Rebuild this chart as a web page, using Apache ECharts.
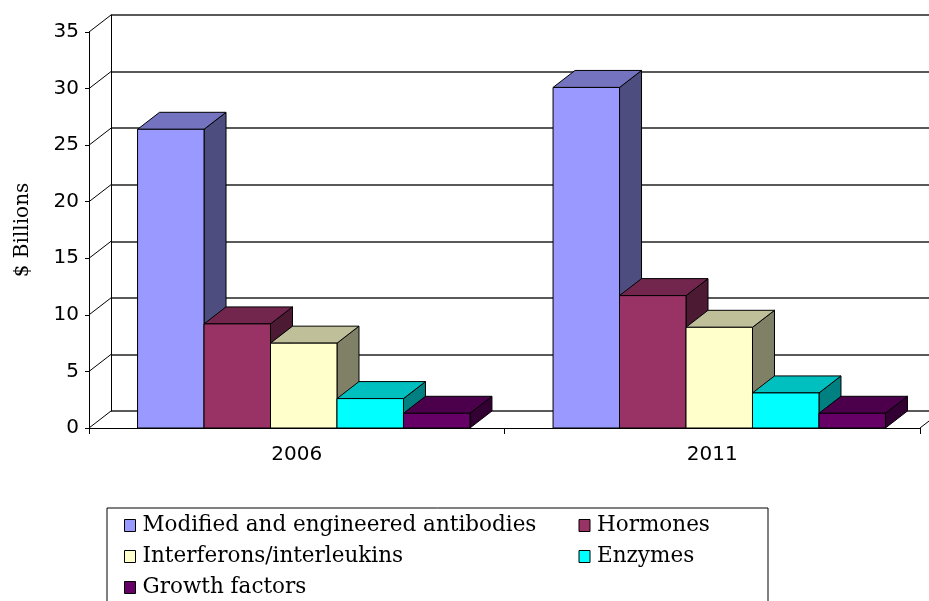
<!DOCTYPE html>
<html>
<head>
<meta charset="utf-8">
<script src="https://cdn.jsdelivr.net/npm/echarts@6/dist/echarts.min.js"></script>
<style>
  html, body { margin: 0; padding: 0; background: #fff; }
  #main { width: 929px; height: 601px; }
</style>
</head>
<body>
<div id="main"></div>
<script>
// data
var years = ['2006', '2011'];
var productNames = ['Modified and engineered antibodies', 'Hormones', 'Interferons/interleukins', 'Enzymes', 'Growth factors'];
var antibodies = [26.4, 30.1];
var hormones = [9.2, 11.7];
var interferons = [7.5, 8.9];
var enzymes = [2.6, 3.1];
var growthFactors = [1.3, 1.3];
var yTicks = [0, 5, 10, 15, 20, 25, 30, 35];

// excel-ish 3d colours: front, top, side
var frontColors = ['#9999ff', '#993366', '#ffffcc', '#00ffff', '#660066'];
var topColors = ['#7373bf', '#73264d', '#bfbf99', '#00bfbf', '#4c004c'];
var sideColors = ['#4d4d80', '#4d1a33', '#808066', '#008080', '#330033'];

var DX = 22, DY = -17; // depth of the box
var SHIFT = 7;

var allValues = [antibodies, hormones, interferons, enzymes, growthFactors];

var chart = echarts.init(document.getElementById('main'));

function barRenderer(k) {
  return function (params, api) {
    var cat = api.value(0);
    var val = api.value(1);
    var base = api.coord([cat, 0]);
    var top = api.coord([cat, val]);
    var band = api.size([1, 0])[0];
    var w = band * 0.8 / 5;
    var x0 = base[0] - band * 0.4 + k * w + SHIFT;
    var x1 = x0 + w;
    var st = { stroke: '#000', lineWidth: 1 };
    return {
      type: 'group',
      children: [
        {
          type: 'polygon',
          shape: { points: [[x1, top[1]], [x1 + DX, top[1] + DY], [x1 + DX, base[1] + DY], [x1, base[1]]] },
          style: Object.assign({ fill: sideColors[k] }, st)
        },
        {
          type: 'polygon',
          shape: { points: [[x0, top[1]], [x0 + DX, top[1] + DY], [x1 + DX, top[1] + DY], [x1, top[1]]] },
          style: Object.assign({ fill: topColors[k] }, st)
        },
        {
          type: 'rect',
          shape: { x: x0, y: top[1], width: w, height: base[1] - top[1] },
          style: Object.assign({ fill: frontColors[k] }, st)
        }
      ]
    };
  };
}

var series = [];

// side wall diagonals (and right floor edge)
series.push({
  type: 'custom',
  xAxisIndex: 0,
  yAxisIndex: 0,
  silent: true,
  clip: false,
  z: 1,
  data: yTicks.map(function (v) { return [0, v]; }),
  renderItem: function (params, api) {
    var p = api.coord([0, api.value(1)]);
    var x = params.coordSys.x;
    var kids = [{
      type: 'line',
      shape: { x1: x, y1: p[1], x2: x + DX, y2: p[1] + DY },
      style: { stroke: '#000', lineWidth: 1 }
    }];
    if (api.value(1) === 0) {
      var xr = params.coordSys.x + params.coordSys.width;
      kids.push({
        type: 'line',
        shape: { x1: xr, y1: p[1], x2: xr + DX, y2: p[1] + DY },
        style: { stroke: '#000', lineWidth: 1 }
      });
    }
    return { type: 'group', children: kids };
  }
});

for (var k = 0; k < productNames.length; k++) {
  series.push({
    name: productNames[k],
    type: 'custom',
    xAxisIndex: 0,
    yAxisIndex: 0,
    clip: false,
    z: 3,
    itemStyle: { color: frontColors[k], borderColor: '#000', borderWidth: 1 },
    encode: { x: 0, y: 1 },
    data: allValues[k].map(function (v, i) { return [i, v]; }),
    renderItem: barRenderer(k)
  });
}

var colWidths = [436, 150, 436, 150, 436];

var option = {
  backgroundColor: '#fff',
  animation: false,
  grid: [
    { left: 89, top: 32, width: 831, height: 396 },
    { left: 111, top: 15, width: 831, height: 396 }
  ],
  xAxis: [
    {
      type: 'category',
      gridIndex: 0,
      data: years,
      axisLine: { lineStyle: { color: '#000', width: 1 } },
      axisTick: { show: true, length: 6, lineStyle: { color: '#000' } },
      axisLabel: { color: '#000', fontFamily: 'DejaVu Sans', fontSize: 20, margin: 17 },
      splitLine: { show: false }
    },
    {
      type: 'category',
      gridIndex: 1,
      data: years,
      show: false
    }
  ],
  yAxis: [
    {
      type: 'value',
      gridIndex: 0,
      min: 0,
      max: 35,
      interval: 5,
      name: '$ Billions',
      nameLocation: 'middle',
      nameGap: 56,
      nameTextStyle: { color: '#000', fontFamily: 'DejaVu Serif', fontSize: 20 },
      axisLine: { show: true, lineStyle: { color: '#000', width: 1 } },
      axisTick: { show: true, length: 4, lineStyle: { color: '#000' } },
      axisLabel: { color: '#000', fontFamily: 'DejaVu Sans', fontSize: 20, margin: 10 },
      splitLine: { show: false }
    },
    {
      type: 'value',
      gridIndex: 1,
      min: 0,
      max: 35,
      interval: 5,
      axisLine: { show: true, lineStyle: { color: '#000', width: 1 } },
      axisTick: { show: false },
      axisLabel: { show: false },
      splitLine: { show: true, lineStyle: { color: '#222', width: 1.5 } }
    }
  ],
  legend: {
    left: 107,
    top: 508,
    width: 640,
    orient: 'horizontal',
    icon: 'rect',
    itemWidth: 11,
    itemHeight: 12,
    itemGap: 0,
    selectedMode: false,
    borderColor: '#000',
    borderWidth: 1,
    padding: [2, 21, 30, 17],
    data: productNames.map(function (n, i) {
      return {
        name: n,
        itemStyle: { color: frontColors[i], borderColor: '#000', borderWidth: 1 },
        textStyle: { width: colWidths[i], overflow: 'none' }
      };
    }),
    textStyle: { color: '#000', fontFamily: 'DejaVu Serif', fontSize: 21.5, lineHeight: 31, padding: [0, 0, 0, 2] }
  },
  series: series
};

chart.setOption(option);
</script>
</body>
</html>
